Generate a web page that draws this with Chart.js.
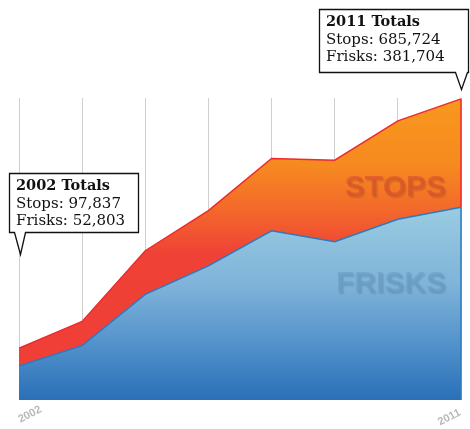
<!DOCTYPE html>
<html>
<head>
<meta charset="utf-8">
<script src="https://cdn.jsdelivr.net/npm/chart.js@4/dist/chart.umd.min.js"></script>
<style>
  html, body { margin: 0; padding: 0; background: #ffffff; }
  #wrap { position: relative; width: 470px; height: 429px; }
</style>
</head>
<body>
<div id="wrap"><canvas id="c"></canvas></div>
<script>
// Categories (8 plotted points; only first and last are labelled)
const categories = ['2002', '', '', '', '', '', '', '2011'];
// Values in thousands
const stopsValues  = [120, 182, 346, 439, 560, 556, 647, 698];
const frisksValues = [79, 126, 245, 311, 392, 367, 419, 447];
const tickLabels = ['2002', '2011'];
const callout2002 = ['2002 Totals', 'Stops: 97,837', 'Frisks: 52,803'];
const callout2011 = ['2011 Totals', 'Stops: 685,724', 'Frisks: 381,704'];
const watermarks = ['STOPS', 'FRISKS'];

function stopsGradient(ctx) {
  const area = ctx.chart.chartArea;
  if (!area) return '#f37021';
  const g = ctx.chart.ctx.createLinearGradient(0, area.top, 0, area.bottom);
  g.addColorStop(0.00, '#f8981d');
  g.addColorStop(0.22, '#f68a20');
  g.addColorStop(0.36, '#f36b2a');
  g.addColorStop(0.52, '#ef4136');
  g.addColorStop(1.00, '#ef3e36');
  return g;
}
function frisksGradient(ctx) {
  const area = ctx.chart.chartArea;
  if (!area) return '#6fa8d6';
  const g = ctx.chart.ctx.createLinearGradient(0, area.top, 0, area.bottom);
  g.addColorStop(0.00, '#a3d3e3');
  g.addColorStop(0.35, '#9bcde1');
  g.addColorStop(0.62, '#7fb3d9');
  g.addColorStop(0.85, '#4a8cc8');
  g.addColorStop(1.00, '#2a70b8');
  return g;
}

const decorPlugin = {
  id: 'decor',
  afterDatasetsDraw(chart) {
    const ctx = chart.ctx;
    const a = chart.chartArea;
    const xs = chart.scales.x, ys = chart.scales.y;
    const last = categories.length - 1;
    const xr = xs.getPixelForValue(last);
    // right-hand edge strokes of the two areas
    ctx.save();
    ctx.lineWidth = 1.5;
    ctx.strokeStyle = '#ee2a2f';
    ctx.beginPath();
    ctx.moveTo(xr, ys.getPixelForValue(stopsValues[last]));
    ctx.lineTo(xr, ys.getPixelForValue(frisksValues[last]));
    ctx.stroke();
    ctx.strokeStyle = '#2a7bc2';
    ctx.beginPath();
    ctx.moveTo(xr, ys.getPixelForValue(frisksValues[last]));
    ctx.lineTo(xr, ys.getPixelForValue(0));
    ctx.stroke();
    ctx.restore();

    ctx.save();
    ctx.font = 'bold 30px "Liberation Sans", Arial, sans-serif';
    ctx.textAlign = 'right';
    ctx.textBaseline = 'alphabetic';
    ctx.shadowColor = 'rgba(0,0,0,0.22)';
    ctx.shadowOffsetX = 1.5;
    ctx.shadowOffsetY = 2;
    ctx.shadowBlur = 1.5;
    ctx.fillStyle = 'rgba(216, 76, 46, 0.6)';
    ctx.fillText(watermarks[0], a.right - 15, 196);
    ctx.fillStyle = 'rgba(100, 156, 194, 0.55)';
    ctx.fillText(watermarks[1], a.right - 15, 292);
    ctx.restore();
  },
  afterDraw(chart) {
    const ctx = chart.ctx;
    const xs = chart.scales.x;
    const x0 = xs.getPixelForValue(0);
    const x1 = xs.getPixelForValue(categories.length - 1);

    // x tick labels
    function tick(text, x, y, align) {
      ctx.save();
      ctx.fillStyle = '#b8b8b8';
      ctx.font = 'bold 11px "Liberation Sans", Arial, sans-serif';
      ctx.textBaseline = 'middle';
      ctx.translate(x, y);
      ctx.rotate(-27 * Math.PI / 180);
      ctx.textAlign = align;
      ctx.fillText(text, 0, 0);
      ctx.restore();
    }
    tick(tickLabels[0], x0, 420, 'left');
    tick(tickLabels[1], x1 - 1, 412, 'right');

    // callouts
    function callout(left, top, w, h, apexX, apexY, baseL, baseR, lines) {
      ctx.save();
      ctx.beginPath();
      const r = left + w, b = top + h;
      ctx.moveTo(left + 0.5, top + 0.5);
      ctx.lineTo(r + 0.5, top + 0.5);
      ctx.lineTo(r + 0.5, b + 0.5);
      ctx.lineTo(baseR + 0.5, b + 0.5);
      ctx.lineTo(apexX + 0.5, apexY + 0.5);
      ctx.lineTo(baseL + 0.5, b + 0.5);
      ctx.lineTo(left + 0.5, b + 0.5);
      ctx.closePath();
      ctx.fillStyle = '#ffffff';
      ctx.fill();
      ctx.strokeStyle = '#111111';
      ctx.lineWidth = 1.3;
      ctx.stroke();
      ctx.fillStyle = '#111111';
      ctx.textAlign = 'left';
      ctx.textBaseline = 'alphabetic';
      ctx.font = 'bold 14.5px "DejaVu Serif", serif';
      ctx.fillText(lines[0], left + 7, top + 17);
      ctx.font = '15px "DejaVu Serif", serif';
      ctx.fillText(lines[1], left + 7, top + 35);
      ctx.fillText(lines[2], left + 7, top + 52);
      ctx.restore();
    }
    callout(9, 173, 129, 59, x0 + 1, 254, x0 - 5, x0 + 6, callout2002);
    callout(319, 9, 149, 63, x1, 89, x1 - 6, x1 + 6, callout2011);
  }
};

new Chart(document.getElementById('c'), {
  type: 'line',
  data: {
    labels: categories,
    datasets: [
      {
        label: 'Frisks',
        data: frisksValues,
        fill: 'origin',
        backgroundColor: frisksGradient,
        borderColor: '#2a7bc2',
        borderWidth: 1.5,
        pointRadius: 0,
        tension: 0
      },
      {
        label: 'Stops',
        data: stopsValues,
        fill: 'origin',
        backgroundColor: stopsGradient,
        borderColor: '#ee2a2f',
        borderWidth: 1.5,
        pointRadius: 0,
        tension: 0
      }
    ]
  },
  options: {
    responsive: true,
    maintainAspectRatio: false,
    animation: false,
    events: [],
    layout: { padding: { left: 19, right: 9, top: 98, bottom: 29 } },
    plugins: { legend: { display: false }, tooltip: { enabled: false } },
    scales: {
      x: {
        display: true,
        offset: false,
        grid: { color: '#cfcfcf', lineWidth: 1, drawTicks: false },
        border: { display: false },
        ticks: { display: false }
      },
      y: {
        display: false,
        min: 0,
        max: 700
      }
    }
  },
  plugins: [decorPlugin]
});
</script>
</body>
</html>
